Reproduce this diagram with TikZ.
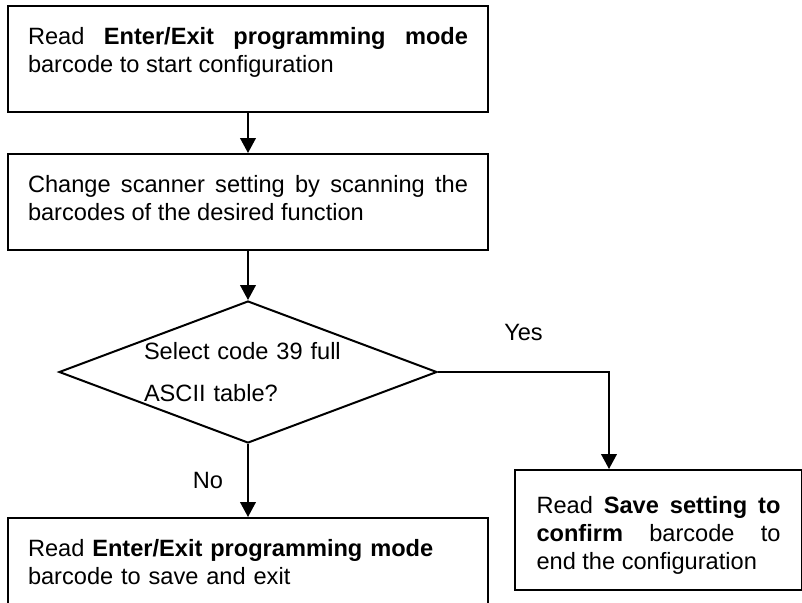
\documentclass[tikz,border=0pt]{standalone}
\usepackage{fontspec}
\setmainfont{Liberation Sans}
\usepackage{tikz}
\usetikzlibrary{positioning,shapes.geometric,arrows.meta}
\hyphenpenalty=10000

\begin{document}
\begin{tikzpicture}[line width=1pt, >={Triangle[width=7.8pt,length=7.5pt]},
                    block/.style={draw, rectangle, text width=220pt, inner xsep=10pt, inner ysep=9pt,
                                  text height=10pt, align=justify, font=\fontsize{11.8}{14}\selectfont},
                    decision/.style={draw, diamond, aspect=2.66, minimum width=189pt, minimum height=71pt,
                                     text width=104pt, inner sep=0pt, align=left, font=\fontsize{11.8}{21}\selectfont},
                    tag/.style={inner sep=0pt, font=\fontsize{11.8}{14}\selectfont}]
                    \clip (-3.5pt,2.5pt) rectangle (397.5pt,-298.5pt);
                    \node[block, text depth=25pt, anchor=north west] (enter) at (0,0)
                        {Read \textbf{Enter/Exit programming mode}\linebreak barcode to start configuration};
                    \node[block, text depth=20pt, below=20pt of enter] (change)
                        {Change scanner setting by scanning the\linebreak barcodes of the desired function};
                    \node[decision, below=24.5pt of change] (select) {Select code 39 full\\ASCII table?};
                    \node[block, text depth=27pt, align=left, below=36.5pt of select] (leave)
                        {Read \textbf{Enter/Exit programming mode}\\barcode to save and exit};
                    \node[block, text width=122pt, inner xsep=10.75pt, text height=12.75pt, text depth=29.25pt,
                          below right=48.5pt and 38pt of select.east] (save)
                        {Read \textbf{Save setting to}\linebreak \textbf{confirm} barcode to\linebreak end the configuration};
                    \coordinate[right=85.5pt of select.east] (yesturn);
                    
                    \draw[->] (enter) -- (change);
                    \draw[->] (change) -- (select);
                    \draw[->] (select) -- node[tag, left=12pt] {No} (leave);
                    \draw[->] (select.east) -- node[tag, above=15pt] {Yes} (yesturn) -- (yesturn |- save.north);
                \end{tikzpicture}
\end{document}
